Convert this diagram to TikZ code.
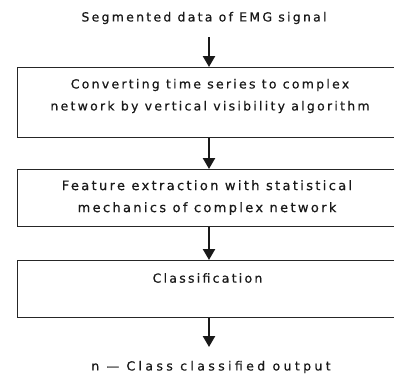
\documentclass[tikz,border=0pt]{standalone}
\usepackage{fontspec}
\setmainfont{DejaVu Sans}[LetterSpace=18,FakeBold=0.6]
\usetikzlibrary{arrows.meta}
\begin{document}
\begin{tikzpicture}[x=1pt,y=-1pt,
  box/.style={draw=black!85,line width=1.3pt,rectangle,minimum width=383pt,inner sep=0pt,anchor=north west},
  lbl/.style={font=\fontsize{12.5}{22}\selectfont,align=center,inner sep=0pt,text=black!90},
  arr/.style={line width=2.3pt,draw=black!90,-{Triangle[width=12pt,length=11pt]}}]
\useasboundingbox (0,0) rectangle (394,376);
\clip (0,0) rectangle (394,376);
\node[lbl] (title) at (204,18) {Segmented data of EMG signal};
\node[box,minimum height=70pt] (b1) at (17,67) {};
\node[lbl] (t1) at (210,96) {Converting time series to complex\\network by vertical visibility algorithm};
\node[lbl,font=\fontsize{13}{22}\selectfont] (t2) at (207,197.5) {Feature extraction with statistical\\mechanics of complex network};
\node[box,minimum height=57pt] (b2) at (17,169) {};
\node[box,minimum height=57pt] (b3) at (17,260) {};
\node[lbl] (t3) at (207.5,278) {Classification};
\node[lbl,font=\fontsize{12.5}{22}\selectfont\addfontfeatures{LetterSpace=27}] (out) at (211,367) {n --- Class classified output};
\coordinate (a0) at (209,37);
\coordinate (a4) at (209,347);
\draw[arr] (a0) -- (a0 |- b1.north);
\draw[arr] (a0 |- b1.south) -- (a0 |- b2.north);
\draw[arr] (a0 |- b2.south) -- (a0 |- b3.north);
\draw[arr] (a0 |- b3.south) -- (a4);
\end{tikzpicture}
\end{document}
